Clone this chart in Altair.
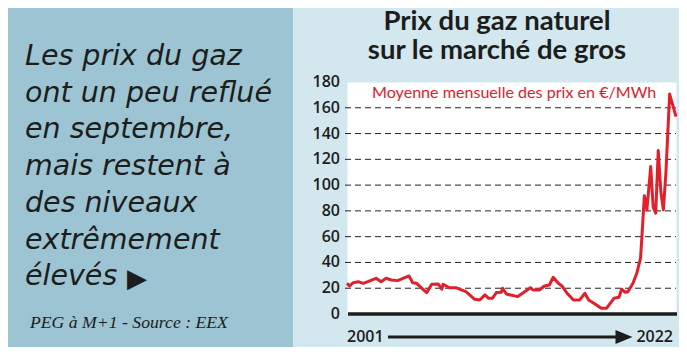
import altair as alt
import pandas as pd

# ---- data ----
MONTHS = ["2001-01", "2001-03", "2001-06", "2001-10", "2002-02", "2002-12", "2003-04", "2003-08",
          "2003-12", "2004-05", "2005-02", "2005-05", "2005-08", "2006-04", "2006-08", "2007-01",
          "2007-04", "2007-05", "2007-10", "2008-03", "2008-11", "2009-06", "2009-10", "2010-02",
          "2010-05", "2010-08", "2010-11", "2011-03", "2011-04", "2011-07", "2012-04", "2013-02",
          "2013-04", "2013-09", "2014-01", "2014-05", "2014-08", "2014-12", "2015-03", "2015-07",
          "2015-12", "2016-05", "2016-09", "2016-12", "2017-05", "2017-10", "2018-02", "2018-08",
          "2018-12", "2019-02", "2019-05", "2019-07", "2019-11", "2020-02", "2020-05", "2020-06",
          "2020-08", "2020-10", "2021-01", "2021-03", "2021-05", "2021-07", "2021-09", "2021-11",
          "2022-01", "2022-04", "2022-09"]
PRICES = [23.8, 21.7, 24.3, 25.0, 23.8, 27.7, 25.0, 27.7,
          26.4, 25.9, 29.5, 24.3, 23.8, 16.6, 23.1, 23.3,
          19.2, 23.1, 20.4, 20.4, 17.3, 11.4, 10.9, 14.8,
          12.2, 12.2, 16.6, 16.9, 20.0, 15.5, 13.5, 20.4,
          18.6, 18.6, 21.7, 22.5, 28.5, 23.8, 21.7, 16.1,
          10.9, 10.9, 16.1, 10.9, 7.8, 4.4, 4.4, 12.2,
          13.0, 19.2, 16.9, 17.3, 23.8, 31.6, 43.3, 58.8,
          91.7, 80.8, 114.4, 82.9, 78.2, 126.8, 95.0, 80.8,
          109.3, 170.6, 153.2]
Y_TICKS = [0, 20, 40, 60, 80, 100, 120, 140, 160, 180]
GRID_VALUES = [20, 40, 60, 80, 100, 120, 140, 160]
TITLE_LINES = ["Prix du gaz naturel", "sur le marché de gros"]
SUBTITLE = "Moyenne mensuelle des prix en €/MWh"
LEFT_LINES = ["Les prix du gaz", "ont un peu reflué", "en septembre,", "mais restent à",
              "des niveaux", "extrêmement", "élevés"]
POINTER = "▶"
SOURCE = "PEG à M+1 - Source : EEX"
START_LABEL = "2001"
END_LABEL = "2022"

# ---- styling ----
W, H = 329, 232
RED = "#e2202b"
INK = "#1d1d1b"
LEFT_BG = "#9cc4d3"
RIGHT_BG = "#d3e7ef"

df = pd.DataFrame({"date": pd.to_datetime(MONTHS), "price": PRICES})
one = pd.DataFrame({"k": [0]})

xscale = alt.Scale(domain=[pd.Timestamp(MONTHS[0]).isoformat(), pd.Timestamp(MONTHS[-1]).isoformat()], nice=False)
yscale = alt.Scale(domain=[0, 180], nice=False)

left_panel = alt.Chart(one).mark_rect(color=LEFT_BG).encode(
    x=alt.value(-345), x2=alt.value(-54), y=alt.value(-80), y2=alt.value(270)
)

grid = alt.Chart(pd.DataFrame({"g": GRID_VALUES})).mark_rule(
    color="#222", strokeWidth=1, strokeDash=[6, 4]
).encode(
    y=alt.Y("g:Q", scale=yscale, axis=None), x=alt.value(-2), x2=alt.value(W)
)

yaxis = alt.Chart(pd.DataFrame({"t": Y_TICKS})).mark_text(
    align="right", baseline="middle", font="Open Sans", fontSize=16, fontWeight=600, color=INK, dx=-7
).encode(
    y=alt.Y("t:Q", scale=yscale, axis=None), x=alt.value(0), text=alt.Text("t:Q")
)

zero = alt.Chart(pd.DataFrame({"z": [0]})).mark_rule(color=INK, strokeWidth=3.5).encode(
    y=alt.Y("z:Q", scale=yscale, axis=None), x=alt.value(1), x2=alt.value(W + 1)
)

line = alt.Chart(df).mark_line(color=RED, strokeWidth=3, strokeJoin="round").encode(
    x=alt.X("date:T", scale=xscale, axis=None),
    y=alt.Y("price:Q", scale=yscale, axis=None),
)

title = alt.Chart(one).mark_text(
    text=TITLE_LINES, align="center", baseline="alphabetic", font="Lato", fontSize=27.5,
    fontWeight="bold", color=INK, lineHeight=28.5
).encode(x=alt.value(150), y=alt.value(-52))

subtitle = alt.Chart(one).mark_text(
    text=SUBTITLE, align="left", baseline="alphabetic", font="Lato", fontSize=16.1, color=RED
).encode(x=alt.value(25), y=alt.value(16))

left_text = alt.Chart(one).mark_text(
    text=LEFT_LINES, align="left", baseline="alphabetic", font="DejaVu Sans", fontSize=28.5,
    fontStyle="italic", color=INK, lineHeight=36.7
).encode(x=alt.value(-322), y=alt.value(-17))

pointer = alt.Chart(one).mark_text(
    text=POINTER, align="center", baseline="middle", font="DejaVu Sans", fontSize=26, color=INK
).encode(x=alt.value(-210), y=alt.value(197))

source = alt.Chart(one).mark_text(
    text=SOURCE, align="left", baseline="alphabetic", font="Liberation Serif", fontSize=17.7,
    fontStyle="italic", color=INK
).encode(x=alt.value(-317), y=alt.value(246))

start_lbl = alt.Chart(one).mark_text(
    text=START_LABEL, align="left", baseline="middle", font="Open Sans", fontSize=16,
    fontWeight=600, color=INK
).encode(x=alt.value(0), y=alt.value(255))

end_lbl = alt.Chart(one).mark_text(
    text=END_LABEL, align="right", baseline="middle", font="Open Sans", fontSize=16,
    fontWeight=600, color=INK
).encode(x=alt.value(326), y=alt.value(255))

arrow_line = alt.Chart(one).mark_rule(color=INK, strokeWidth=3).encode(
    x=alt.value(41), x2=alt.value(272), y=alt.value(255)
)

arrow_head = alt.Chart(one).mark_point(
    shape="M-1,-0.82L1,0L-1,0.82Z", size=289, filled=True, color=INK, opacity=1
).encode(x=alt.value(277), y=alt.value(255))

chart = alt.layer(
    left_panel, grid, zero, line, yaxis, title, subtitle, left_text, pointer, source,
    start_lbl, end_lbl, arrow_line, arrow_head
).properties(
    width=W, height=H,
    padding={"left": 339, "top": 74, "right": 3, "bottom": 33},
    autosize=alt.AutoSizeParams(type="none"),
    background=RIGHT_BG,
).configure_view(fill="white", strokeOpacity=0)

chart.save("out.html", embed_options={"renderer": "svg", "actions": False})
